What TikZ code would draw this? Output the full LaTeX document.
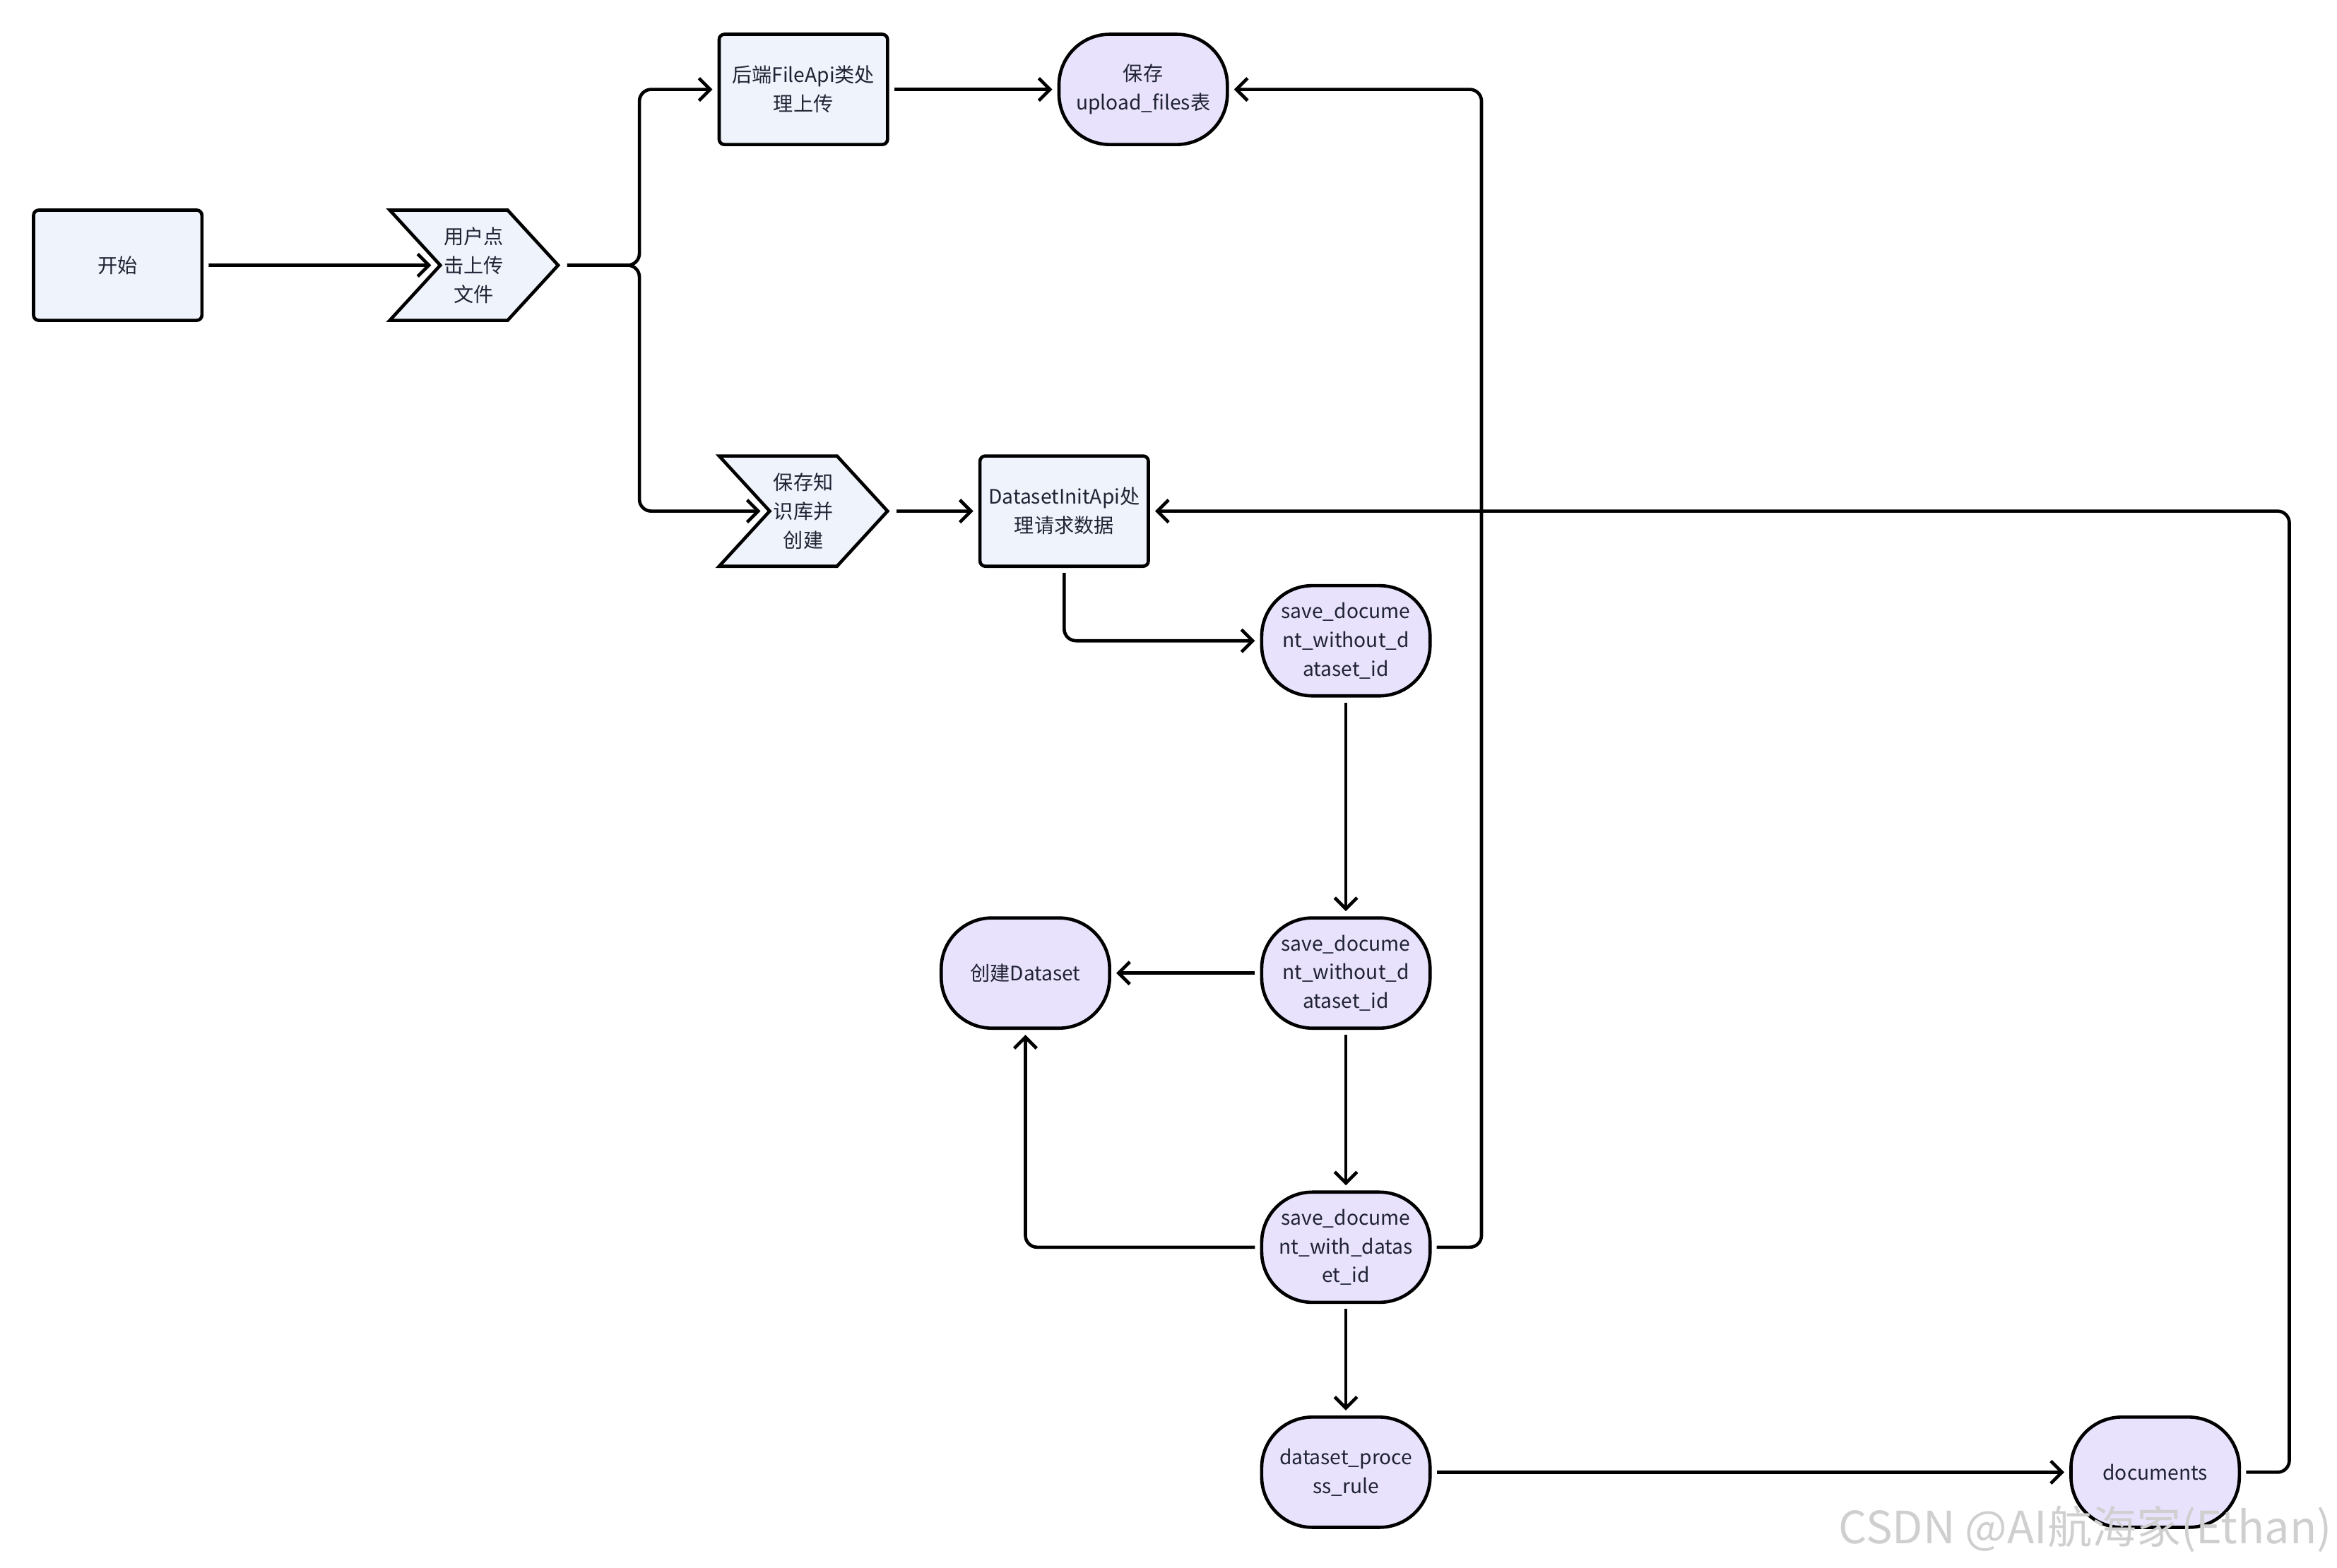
\documentclass[tikz,border=0pt]{standalone}
\usepackage{fontspec}
\setmainfont{Noto Sans CJK SC}
\usepackage{xcolor}
\usepackage{tikz}
\usetikzlibrary{arrows.meta}
\usetikzlibrary{shapes.symbols}
\definecolor{boxfill}{RGB}{239,243,252}
\definecolor{termfill}{RGB}{233,226,253}
\definecolor{inktext}{RGB}{31,35,51}
\tikzset{
  base/.style={draw=black, line width=1.25pt, text=inktext, align=center,
    minimum width=2.26cm, minimum height=1.48cm, inner sep=1pt, outer sep=0.09cm,
    font=\fontsize{7.6}{11}\selectfont},
  procbox/.style={base, fill=boxfill, rounded corners=2pt},
  termbox/.style={base, fill=termfill, rounded corners=0.68cm},
  chevbox/.style={base, fill=boxfill, shape=signal, signal to=east, signal from=west,
    signal pointer angle=95},
  link/.style={->, line width=1.25pt, rounded corners=4.5pt}
}
\begin{document}
\begin{tikzpicture}[x=0.02cm, y=-0.02cm, >={Straight Barb[length=1.5mm,width=3mm]}]
    \useasboundingbox (0,0) rectangle (1568,1052);
    \node[procbox] (start) at (79,178) {开始};
    \node[chevbox] (upload) at (318,178) {用户点\\击上传\\文件};
    \node[procbox] (fileapi) at (539,60) {后端FileApi类处\\理上传};
    \node[termbox] (uploadtbl) at (767,60) {保存\\upload\_files表};
    \node[chevbox] (kbsave) at (539,343) {保存知\\识库并\\创建};
    \node[procbox] (initapi) at (714,343) {DatasetInitApi处\\理请求数据};
    \node[termbox] (savea) at (903,430) {save\_docume\\nt\_without\_d\\ataset\_id};
    \node[termbox] (saveb) at (903,653) {save\_docume\\nt\_without\_d\\ataset\_id};
    \node[termbox] (createds) at (688,653) {创建Dataset};
    \node[termbox] (savec) at (903,837) {save\_docume\\nt\_with\_datas\\et\_id};
    \node[termbox] (rule) at (903,988) {dataset\_proce\\ss\_rule};
    \node[termbox] (docs) at (1446,988) {documents};
    \coordinate (fork) at (429,178);
    \coordinate (rtA) at (994,0 |- uploadtbl);
    \coordinate (rtB) at (1536,0 |- initapi);
    \draw[link] (start) -- (upload);
    \draw[link] (upload) -- (fork) |- (fileapi);
    \draw[link] (upload) -- (fork) |- (kbsave);
    \draw[link] (fileapi) -- (uploadtbl);
    \draw[link] (kbsave) -- (initapi);
    \draw[link] (initapi) |- (savea);
    \draw[link] (savea) -- (saveb);
    \draw[link] (saveb) -- (createds);
    \draw[link] (saveb) -- (savec);
    \draw[link] (savec) -| (createds);
    \draw[link] (savec) -| (rtA) -- (uploadtbl);
    \draw[link] (savec) -- (rule);
    \draw[link] (rule) -- (docs);
    \draw[link] (docs) -| (rtB) -- (initapi);
    \node[anchor=base east, text=gray!38, font=\fontsize{17}{19}\selectfont, inner sep=0pt] (mark) at (1565,1036) {CSDN @AI航海家(Ethan)};
\end{tikzpicture}
\end{document}
